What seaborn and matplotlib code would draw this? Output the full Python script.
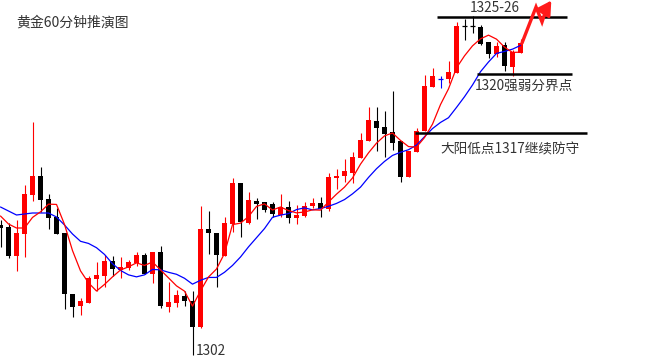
import numpy as np
import pandas as pd
import matplotlib
matplotlib.use("Agg")
import matplotlib.pyplot as plt
import seaborn as sns

# ---------------- data ----------------
open_ = [1311.17, 1311.03, 1309.00, 1310.54, 1313.27, 1314.60, 1312.99, 1311.73, 1310.61, 1306.34,
         1305.50, 1305.71, 1307.39, 1307.60, 1308.65, 1308.02, 1308.16, 1308.51, 1309.07, 1307.74,
         1309.28, 1305.43, 1305.71, 1306.20, 1305.85, 1304.03, 1310.89, 1310.61, 1309.00, 1311.24,
         1314.11, 1311.31, 1312.85, 1312.78, 1312.64, 1311.87, 1312.43, 1311.66, 1311.80, 1312.50,
         1312.71, 1312.29, 1314.46, 1314.60, 1314.81, 1315.86, 1317.05, 1318.45, 1318.03, 1317.68,
         1317.05, 1314.53, 1316.28, 1317.75, 1320.83, 1321.39, 1321.39, 1321.81, 1325.10, 1325.10,
         1325.03, 1323.98, 1323.14, 1323.77, 1322.23, 1323.21]
high = [1311.52, 1311.31, 1311.52, 1313.97, 1318.38, 1315.23, 1313.34, 1312.36, 1310.61, 1306.34,
        1306.06, 1307.60, 1308.58, 1309.07, 1309.00, 1308.93, 1308.72, 1309.28, 1309.21, 1309.28,
        1309.70, 1307.18, 1306.62, 1306.55, 1306.55, 1312.50, 1312.15, 1310.61, 1311.73, 1314.46,
        1314.11, 1313.48, 1313.06, 1312.78, 1312.78, 1313.34, 1312.85, 1312.57, 1312.78, 1313.06,
        1313.13, 1314.81, 1315.09, 1315.79, 1316.28, 1317.61, 1319.43, 1319.43, 1319.15, 1320.55,
        1317.05, 1316.35, 1317.96, 1321.67, 1322.16, 1321.60, 1322.65, 1325.38, 1325.59, 1325.80,
        1325.17, 1323.98, 1323.98, 1323.98, 1323.42, 1324.19]
low = [1309.63, 1308.86, 1307.95, 1308.93, 1312.85, 1312.08, 1310.89, 1310.54, 1305.29, 1304.73,
       1304.87, 1305.71, 1306.55, 1306.83, 1307.60, 1307.46, 1308.02, 1308.30, 1307.74, 1307.11,
       1305.36, 1305.08, 1305.43, 1305.50, 1302.07, 1303.96, 1309.14, 1306.83, 1309.00, 1310.68,
       1310.33, 1311.24, 1311.59, 1312.08, 1311.73, 1311.73, 1311.31, 1311.24, 1311.73, 1312.36,
       1311.73, 1312.15, 1313.69, 1314.18, 1314.11, 1315.86, 1317.05, 1316.35, 1315.93, 1316.42,
       1314.18, 1314.53, 1316.28, 1317.75, 1320.83, 1320.76, 1321.11, 1321.81, 1324.12, 1324.61,
       1323.77, 1322.86, 1322.93, 1321.95, 1321.60, 1323.21]
close = [1310.96, 1309.00, 1310.61, 1313.34, 1314.60, 1312.92, 1311.66, 1310.54, 1306.34, 1305.43,
         1305.85, 1307.46, 1307.67, 1308.65, 1308.09, 1308.23, 1308.58, 1309.07, 1307.74, 1309.28,
         1305.50, 1305.78, 1306.27, 1305.85, 1304.03, 1310.89, 1310.61, 1309.07, 1311.31, 1314.11,
         1311.38, 1312.92, 1312.64, 1312.22, 1311.94, 1312.43, 1311.66, 1311.87, 1312.50, 1312.71,
         1312.29, 1314.53, 1314.60, 1314.95, 1315.93, 1317.12, 1318.52, 1317.96, 1317.54, 1316.91,
         1314.53, 1316.35, 1317.75, 1320.90, 1321.60, 1321.39, 1321.88, 1325.10, 1325.10, 1325.10,
         1323.84, 1323.14, 1323.70, 1322.30, 1323.28, 1323.91]
ma5 = [1311.80, 1311.24, 1310.96, 1310.96, 1311.70, 1312.09, 1312.63, 1312.61, 1311.21, 1309.38,
       1307.96, 1307.12, 1306.55, 1307.01, 1307.54, 1308.02, 1308.24, 1308.52, 1308.34, 1308.58,
       1308.03, 1307.47, 1306.91, 1306.54, 1305.49, 1306.56, 1307.53, 1308.09, 1309.18, 1311.20,
       1311.30, 1311.76, 1312.47, 1312.65, 1312.22, 1312.43, 1312.18, 1312.02, 1312.08, 1312.23,
       1312.21, 1312.78, 1313.33, 1313.82, 1314.46, 1315.43, 1316.22, 1316.90, 1317.41, 1317.61,
       1317.09, 1316.66, 1316.62, 1317.29, 1318.23, 1319.60, 1320.70, 1322.17, 1323.01, 1323.71,
       1324.20, 1324.46, 1324.18, 1323.62, 1323.25, 1323.27]
ma10 = [1312.43, 1312.15, 1311.87, 1311.94, 1312.01, 1312.01, 1312.01, 1311.73, 1311.17, 1310.54,
        1310.03, 1309.88, 1309.58, 1309.11, 1308.46, 1307.99, 1307.68, 1307.54, 1307.68, 1308.06,
        1308.03, 1307.86, 1307.72, 1307.44, 1307.03, 1307.30, 1307.50, 1307.50, 1307.86, 1308.34,
        1308.93, 1309.64, 1310.28, 1310.92, 1311.71, 1311.86, 1311.97, 1312.25, 1312.37, 1312.23,
        1312.32, 1312.48, 1312.68, 1312.95, 1313.35, 1313.82, 1314.50, 1315.11, 1315.62, 1316.04,
        1316.26, 1316.44, 1316.76, 1317.35, 1317.92, 1318.35, 1318.68, 1319.40, 1320.15, 1320.97,
        1321.90, 1322.58, 1323.18, 1323.32, 1323.48, 1323.74]

level_top = 1325.70      # "1325-26"
level_mid = 1321.74      # "1320强弱分界点"
level_low = 1317.61      # "大阳低点1317继续防守"
title = "黄金60分钟推演图"
label_top = "1325-26"
label_mid = "1320强弱分界点"
label_low = "大阳低点1317继续防守"
label_min = "1302"
# projected path (index, price) of the red forecast arrow
path_x = [65.19, 66.94, 67.69, 68.31]
path_y = [1323.91, 1326.43, 1325.38, 1326.43]
arrow_tip = (68.85, 1326.88)

# ---------------- drawing ----------------
sns.set_theme(style="white")
plt.rcParams["font.family"] = ["Noto Sans CJK SC", "DejaVu Sans"]

df = pd.DataFrame({"idx": np.arange(len(close)), "open": open_, "high": high,
                   "low": low, "close": close, "ma5": ma5, "ma10": ma10})

fig = plt.figure(figsize=(6.59, 3.62), dpi=100)
ax = fig.add_axes([0, 0, 1, 1])
ax.set_facecolor("white")

doji_colors = {55: "#0000ff"}
body_w = 0.66
for r in df.itertuples():
    if r.close > r.open:
        col = "#ff0000"
    elif r.close < r.open:
        col = "#000000"
    else:
        col = doji_colors.get(r.idx, "#000000")
    ax.vlines(r.idx, r.low, r.high, color=col, linewidth=0.8, zorder=2)
    if r.close == r.open:
        ax.hlines(r.close, r.idx - body_w / 2, r.idx + body_w / 2, color=col,
                  linewidth=0.9, zorder=2)
    else:
        ax.bar(r.idx, abs(r.close - r.open), bottom=min(r.open, r.close),
               width=body_w, color=col, linewidth=0, zorder=2)

sns.lineplot(data=df, x="idx", y="ma10", ax=ax, color="#0000ff", linewidth=0.9,
             zorder=3, legend=False)
sns.lineplot(data=df, x="idx", y="ma5", ax=ax, color="#ff0000", linewidth=0.9,
             zorder=4, legend=False)

# annotation lines
ax.hlines(level_top, 54.56, 70.81, color="black", linewidth=1.8, zorder=5)
ax.hlines(level_mid, 59.56, 71.44, color="black", linewidth=1.8, zorder=5)
ax.hlines(level_low, 51.81, 73.31, color="black", linewidth=1.8, zorder=5)

tc = "#333333"
fs = 9.8
ax.text(58.69, 1326.36, label_top, fontsize=fs, color=tc, va="center", ha="left", zorder=6)
ax.text(59.31, 1320.90, label_mid, fontsize=fs, color=tc, va="center", ha="left", zorder=6)
ax.text(54.94, 1316.49, label_low, fontsize=fs, color=tc, va="center", ha="left", zorder=6)
ax.text(24.44, 1302.35, label_min, fontsize=fs, color=tc, va="center", ha="left", zorder=6)
fig.text(16 / 659, 1 - 23 / 362, title, fontsize=10, color=tc, va="center", ha="left")

# forecast arrow
ax.plot(path_x, path_y, color="#ff1a1a", linewidth=2.4, solid_joinstyle="miter", zorder=6)
ax.annotate("", xy=arrow_tip, xytext=(path_x[-1], path_y[-1] - 0.02),
            arrowprops=dict(arrowstyle="-|>,head_length=0.7,head_width=0.4",
                            color="#ff1a1a", lw=2.2, shrinkA=0, shrinkB=0), zorder=6)

ax.set_xlim(-0.0625, 82.3125)
ax.set_ylim(1326.92 - 0.07 * 362, 1326.92)
ax.axis("off")

fig.savefig("out.png", dpi=100, facecolor="white")
